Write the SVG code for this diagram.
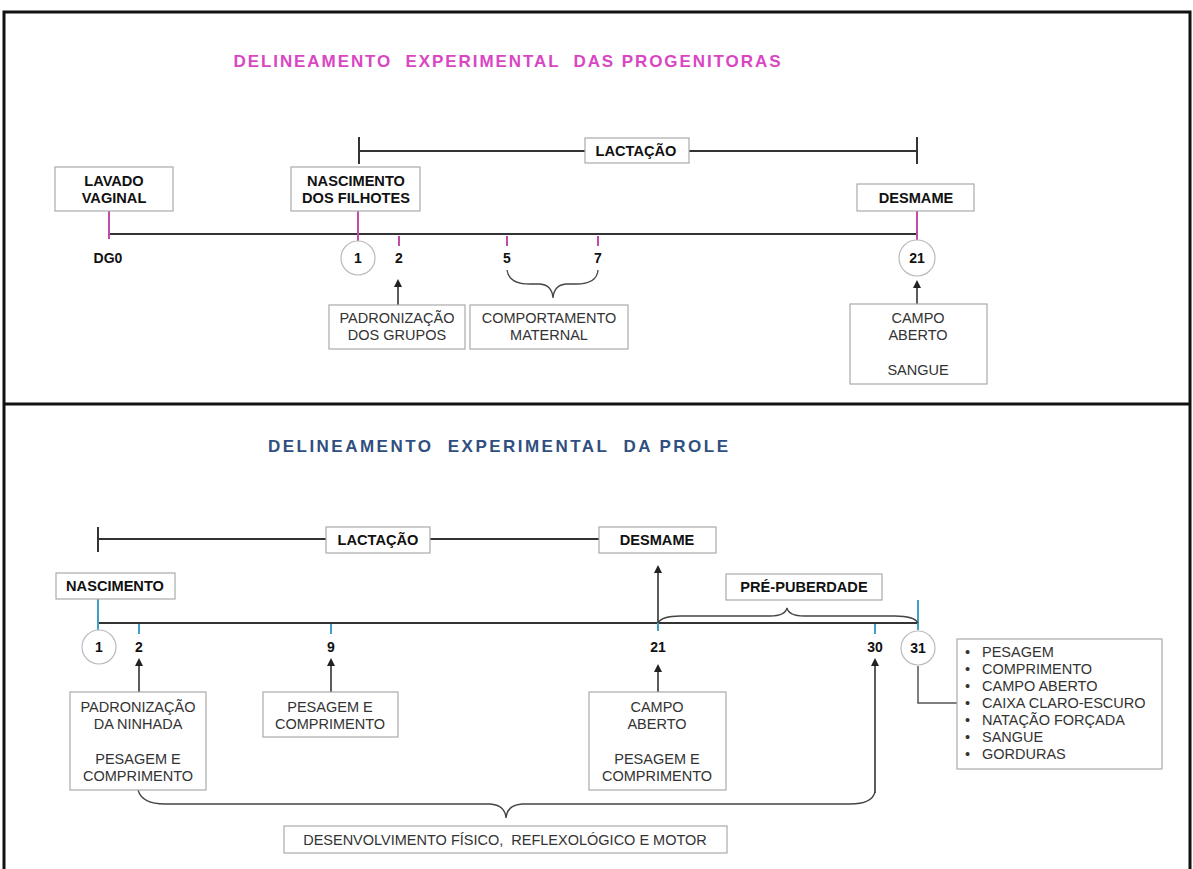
<svg xmlns="http://www.w3.org/2000/svg" width="1193" height="869" viewBox="0 0 1193 869">
<defs>
<marker id="ah" markerWidth="8" markerHeight="8" refX="4" refY="4" orient="auto" markerUnits="userSpaceOnUse">
<path d="M0,0 L8,4 L0,8 Z" fill="#222"/>
</marker>
<style>
text{font-family:"Liberation Sans",Arial,sans-serif;}
.lb{font-size:14.6px;font-weight:bold;fill:#111;text-anchor:middle;}
.nt{font-size:14.5px;fill:#333;text-anchor:middle;}
.num{font-size:14px;font-weight:bold;fill:#111;text-anchor:middle;}
.box{fill:#fff;stroke:#aaa;stroke-width:1.2;}
.circ{fill:#fff;stroke:#bbb;stroke-width:1.2;}
.tl{stroke:#333;stroke-width:2;fill:none;}
.mg{stroke:#c24aa8;stroke-width:2;}
.tq{stroke:#3f9fc4;stroke-width:2;}
.ar{stroke:#333;stroke-width:1.6;fill:none;marker-end:url(#ah);}
.br{stroke:#444;stroke-width:1.3;fill:none;}
.li{font-size:14.5px;fill:#333;}
</style>
</defs>
<rect width="1193" height="869" fill="#fff"/>
<g id="frame" fill="none" stroke="#111" stroke-width="3">
<rect x="4" y="12" width="1186" height="870"/>
<line x1="4" y1="404" x2="1190" y2="404"/>
</g>
<g id="title-top"><text x="507" y="67" font-size="17" font-weight="bold" fill="#d946c4" text-anchor="middle" textLength="547" lengthAdjust="spacing" xml:space="preserve">DELINEAMENTO  EXPERIMENTAL  DAS PROGENITORAS</text></g>
<g id="title-bottom"><text x="498" y="452" font-size="17" font-weight="bold" fill="#2f4f80" text-anchor="middle" textLength="460" lengthAdjust="spacing" xml:space="preserve">DELINEAMENTO  EXPERIMENTAL  DA PROLE</text></g>

<g id="connectors">
<line class="tl" x1="359" y1="151" x2="917" y2="151"/>
<line class="tl" x1="359" y1="137" x2="359" y2="164"/>
<line class="tl" x1="917" y1="137" x2="917" y2="164"/>
<line class="tl" x1="109" y1="234" x2="917" y2="234"/>
<line class="mg" x1="109" y1="211" x2="109" y2="239"/>
<line class="mg" x1="358" y1="211" x2="358" y2="241"/>
<line class="mg" x1="399" y1="236" x2="399" y2="246"/>
<line class="mg" x1="507" y1="236" x2="507" y2="246"/>
<line class="mg" x1="598" y1="236" x2="598" y2="246"/>
<line class="mg" x1="917" y1="211" x2="917" y2="240"/>
<path class="br" d="M507,270 Q509,284 530,284 L540,284 Q552,285 553,298 Q554,285 566,284 L576,284 Q597,284 598,270"/>
<line class="ar" x1="398" y1="305" x2="398" y2="283"/>
<line class="ar" x1="917" y1="304" x2="917" y2="284"/>
<line class="tl" x1="98" y1="539" x2="600" y2="539"/>
<line class="tl" x1="98" y1="527" x2="98" y2="552"/>
<line class="tl" x1="98" y1="623" x2="918" y2="623"/>
<line class="tq" x1="98" y1="599" x2="98" y2="630"/>
<line class="tq" x1="139" y1="624" x2="139" y2="634"/>
<line class="tq" x1="331" y1="624" x2="331" y2="634"/>
<line class="tq" x1="658" y1="622" x2="658" y2="631"/>
<line class="tq" x1="875" y1="624" x2="875" y2="634"/>
<line class="tq" x1="918" y1="600" x2="918" y2="630"/>
<line class="ar" x1="658" y1="623" x2="658" y2="569"/>
<path class="br" d="M658,623 Q662,616 680,616 L770,616 Q785,616 787,608 Q789,616 804,616 L895,616 Q914,616 918,623"/>
<line class="ar" x1="139" y1="692" x2="139" y2="662"/>
<line class="ar" x1="331" y1="692" x2="331" y2="662"/>
<line class="ar" x1="658" y1="692" x2="658" y2="668"/>
<path class="br" d="M138,790 Q142,804 165,804 L490,804 Q505,805 506,818 Q507,805 522,804 L850,804 Q872,804 875,792"/>
<line class="ar" x1="875" y1="793" x2="875" y2="662"/>
<path d="M918,666 L918,703 L957,703" fill="none" stroke="#555" stroke-width="1.5"/>
</g>

<g id="lactacao-top"><rect class="box" x="585" y="138" width="104" height="25"/><text class="lb" x="636" y="156">LACTAÇÃO</text></g>
<g id="lavado"><rect class="box" x="55" y="167" width="118" height="44"/><text class="lb" x="114" y="186">LAVADO</text><text class="lb" x="114" y="203">VAGINAL</text></g>
<g id="nascimento-filhotes"><rect class="box" x="291" y="167" width="129" height="44"/><text class="lb" x="356" y="186">NASCIMENTO</text><text class="lb" x="356" y="203">DOS FILHOTES</text></g>
<g id="desmame-top"><rect class="box" x="857" y="184" width="117" height="27"/><text class="lb" x="916" y="203">DESMAME</text></g>
<g id="dg0"><text class="num" x="108" y="263">DG0</text></g>
<g id="t1"><circle class="circ" cx="358" cy="258" r="17"/><text class="num" x="358" y="263">1</text></g>
<g id="t2"><text class="num" x="399" y="263">2</text></g>
<g id="t5"><text class="num" x="507" y="263">5</text></g>
<g id="t7"><text class="num" x="598" y="263">7</text></g>
<g id="t21"><circle class="circ" cx="917" cy="258" r="18"/><text class="num" x="917" y="263">21</text></g>
<g id="padronizacao-grupos"><rect class="box" x="329" y="305" width="136" height="44"/><text class="nt" x="397" y="323">PADRONIZAÇÃO</text><text class="nt" x="397" y="340">DOS GRUPOS</text></g>
<g id="comportamento"><rect class="box" x="470" y="305" width="158" height="44"/><text class="nt" x="549" y="323">COMPORTAMENTO</text><text class="nt" x="549" y="340">MATERNAL</text></g>
<g id="campo-top"><rect class="box" x="850" y="304" width="137" height="80"/><text class="nt" x="918" y="323">CAMPO</text><text class="nt" x="918" y="340">ABERTO</text><text class="nt" x="918" y="375">SANGUE</text></g>

<g id="lactacao-bottom"><rect class="box" x="326" y="527" width="104" height="26"/><text class="lb" x="378" y="545">LACTAÇÃO</text></g>
<g id="desmame-bottom"><rect class="box" x="599" y="527" width="117" height="26"/><text class="lb" x="657" y="545">DESMAME</text></g>
<g id="nascimento"><rect class="box" x="56" y="573" width="119" height="26"/><text class="lb" x="115" y="591">NASCIMENTO</text></g>
<g id="puberdade"><rect class="box" x="726" y="574" width="156" height="26"/><text class="lb" x="804" y="592">PRÉ-PUBERDADE</text></g>
<g id="b1"><circle class="circ" cx="99" cy="647" r="17"/><text class="num" x="99" y="652">1</text></g>
<g id="b2"><text class="num" x="139" y="652">2</text></g>
<g id="b9"><text class="num" x="331" y="652">9</text></g>
<g id="b21"><text class="num" x="658" y="652">21</text></g>
<g id="b30"><text class="num" x="875" y="652">30</text></g>
<g id="b31"><circle class="circ" cx="918" cy="648" r="17"/><text class="num" x="918" y="653">31</text></g>
<g id="padronizacao-ninhada"><rect class="box" x="70" y="692" width="136" height="98"/><text class="nt" x="138" y="712">PADRONIZAÇÃO</text><text class="nt" x="138" y="729">DA NINHADA</text><text class="nt" x="138" y="764">PESAGEM E</text><text class="nt" x="138" y="781">COMPRIMENTO</text></g>
<g id="pesagem9"><rect class="box" x="263" y="692" width="135" height="45"/><text class="nt" x="330" y="712">PESAGEM E</text><text class="nt" x="330" y="729">COMPRIMENTO</text></g>
<g id="campo-bottom"><rect class="box" x="589" y="692" width="137" height="98"/><text class="nt" x="657" y="712">CAMPO</text><text class="nt" x="657" y="729">ABERTO</text><text class="nt" x="657" y="764">PESAGEM E</text><text class="nt" x="657" y="781">COMPRIMENTO</text></g>
<g id="desenvolvimento"><rect class="box" x="284" y="826" width="443" height="27"/><text class="nt" x="505" y="845" xml:space="preserve">DESENVOLVIMENTO FÍSICO,  REFLEXOLÓGICO E MOTOR</text></g>
<g id="lista"><rect class="box" x="957" y="639" width="205" height="130"/>
<text class="li" x="965" y="657">•</text><text class="li" x="982" y="657">PESAGEM</text>
<text class="li" x="965" y="674">•</text><text class="li" x="982" y="674">COMPRIMENTO</text>
<text class="li" x="965" y="691">•</text><text class="li" x="982" y="691">CAMPO ABERTO</text>
<text class="li" x="965" y="708">•</text><text class="li" x="982" y="708">CAIXA CLARO-ESCURO</text>
<text class="li" x="965" y="725">•</text><text class="li" x="982" y="725">NATAÇÃO FORÇADA</text>
<text class="li" x="965" y="742">•</text><text class="li" x="982" y="742">SANGUE</text>
<text class="li" x="965" y="759">•</text><text class="li" x="982" y="759">GORDURAS</text>
</g>
</svg>
